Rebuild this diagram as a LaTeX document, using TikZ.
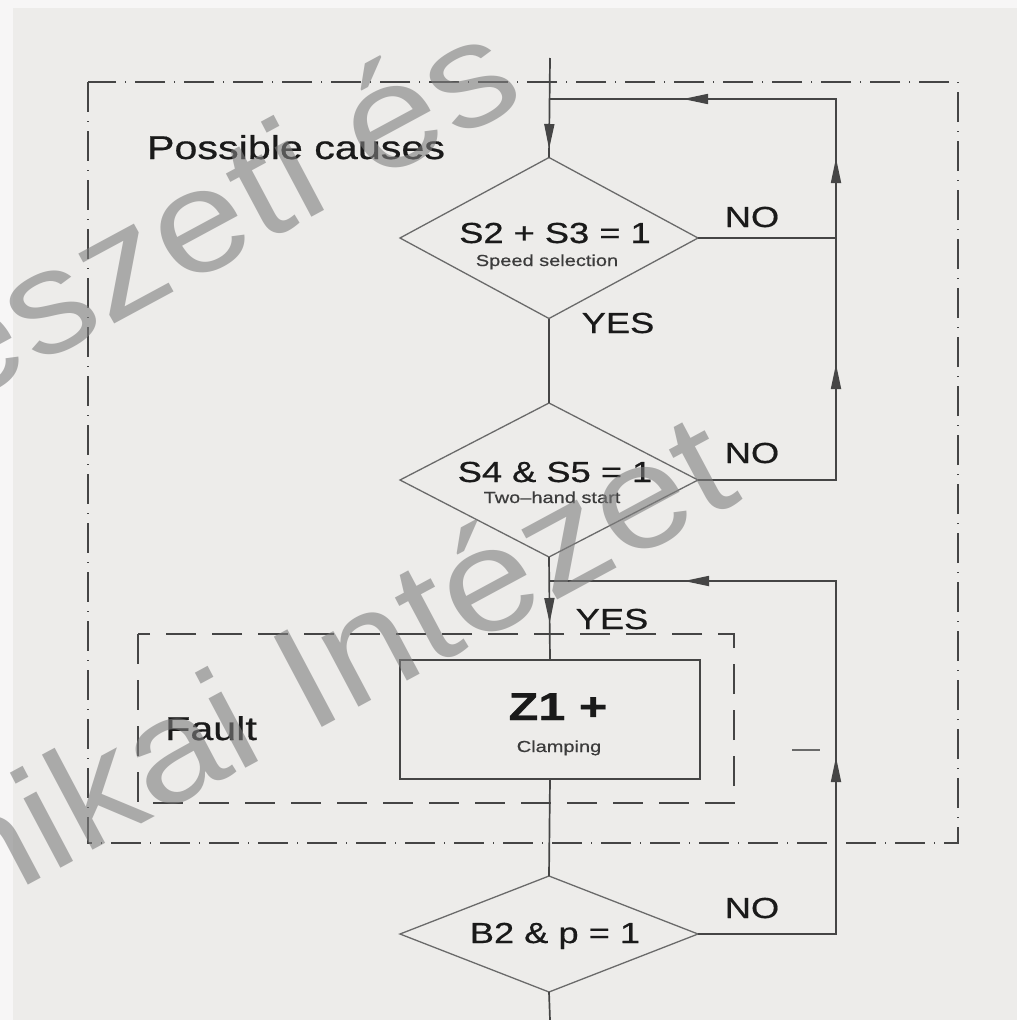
\documentclass[tikz,border=0pt]{standalone}
\usepackage{fontspec}
\setmainfont{Liberation Sans}[FakeStretch=1.25,FakeBold=0.6]
\newfontfamily\wmfont{Liberation Sans}
\usetikzlibrary{shapes.geometric,arrows.meta,decorations.markings}
\definecolor{bg}{HTML}{EDECEA}
\definecolor{ln}{HTML}{454545}
\definecolor{dl}{HTML}{6A6A6A}
\definecolor{tx}{HTML}{1A1A1A}
\definecolor{wm}{HTML}{7E7E7E}
\newcommand\flowtip{\arrow{Triangle[length=25pt,width=10pt]}}
\begin{document}
\begin{tikzpicture}[x=1pt,y=-1pt,
  flow/.style={draw=ln, line width=1.7pt},
  decision/.style={shape=diamond, draw=dl, line width=1.3pt, inner sep=0pt, outer sep=0pt,
    minimum width=298pt},
  procbox/.style={rectangle, draw=ln, line width=1.6pt, inner sep=0pt, outer sep=0pt,
    minimum width=300pt, minimum height=119pt},
  framebox/.style={draw=ln, line width=1.7pt, dash pattern=on 30pt off 9pt on 1pt off 9pt},
  faultbox/.style={draw=ln, line width=1.7pt, dash pattern=on 30pt off 16pt},
  big/.style={text=tx, font=\fontsize{29pt}{33pt}\selectfont, inner sep=0pt, anchor=base},
  head/.style={text=tx, font=\fontsize{33pt}{38pt}\selectfont, inner sep=0pt, anchor=base},
  small/.style={text=tx!85, font=\fontsize{16pt}{18pt}\selectfont, inner sep=0pt, anchor=base},
  zlabel/.style={text=tx, font=\bfseries\fontsize{39pt}{42pt}\selectfont, inner sep=0pt, anchor=base},
  wmark/.style={text=wm, opacity=0.6, font=\wmfont\itshape\fontsize{140pt}{140pt}\selectfont,
    inner sep=0pt, xscale=1.25, transform shape}
]
\useasboundingbox (0,0) rectangle (1017,1020);
\fill[bg] (0,0) rectangle (1017,1020);
\fill[white!55!bg] (0,0) rectangle (1017,8);
\fill[white!55!bg] (0,0) rectangle (13,1020);

% frames
\draw[framebox] (88,82) rectangle (958,843);
\draw[faultbox] (138,634) rectangle (734,803);

% nodes
\node[decision, minimum height=161pt] (d1) at (549,238) {};
\node[decision, minimum height=154pt] (d2) at (549,480) {};
\node[procbox] (z1) at (550,719.5) {};
\node[decision, minimum height=116pt] (d3) at (549,934) {};

\coordinate (start) at (550,58);
\coordinate (finish) at (550,1020);
\coordinate (j1) at (836,238);
\coordinate (jA) at (836,480);
\coordinate (cA) at (836,99);
\coordinate (mA) at (550,99);
\coordinate (jB) at (836,934);
\coordinate (cB) at (836,581);
\coordinate (mB) at (550,581);
\coordinate (s1) at (792,750);
\coordinate (s2) at (820,750);

% main flow
\draw[flow, postaction={decorate}, decoration={markings, mark=at position 91pt with {\flowtip}}]
  (start) -- (d1.north);
\draw[flow] (d1.south) -- (d2.north);
\draw[flow, postaction={decorate}, decoration={markings, mark=at position 66pt with {\flowtip}}]
  (d2.south) -- (z1.north);
\draw[flow] (z1.south) -- (d3.north);
\draw[flow] (d3.south) -- (finish);

% NO loops
\draw[flow] (d1.east) -- (j1);
\draw[flow, postaction={decorate}, decoration={markings,
    mark=at position 254pt with {\flowtip},
    mark=at position 460pt with {\flowtip},
    mark=at position 672pt with {\flowtip}}]
  (d2.east) -- (jA) -- (cA) -- (mA);
\draw[flow, postaction={decorate}, decoration={markings,
    mark=at position 315pt with {\flowtip},
    mark=at position 643pt with {\flowtip}}]
  (d3.east) -- (jB) -- (cB) -- (mB);
\draw[draw=ln!80, line width=1.3pt] (s1) -- (s2);

% texts
\node[head] (tpc) at (296,159) {Possible causes};
\node[head] (tfault) at (211,740) {Fault};
\node[big] (t1) at (555,243) {S2 + S3 = 1};
\node[small] (t1s) at (547,266) {Speed selection};
\node[big] (t2) at (555,482) {S4 \& S5 = 1};
\node[small] (t2s) at (552,503) {Two–hand start};
\node[zlabel] (tz) at (558,720) {Z1 +};
\node[small] (tzs) at (559,752) {Clamping};
\node[big] (t3) at (555,943) {B2 \& p = 1};
\node[big] (no1) at (752,227) {NO};
\node[big] (no2) at (752,463) {NO};
\node[big] (no3) at (752,918) {NO};
\node[big] (yes1) at (618,333) {YES};
\node[big] (yes2) at (612,629) {YES};

% watermark
\node[wmark, anchor=base east, rotate=34] (wm1) at (535,97) {eszeti és};
\node[wmark, anchor=base east, rotate=34] (wm2) at (752,495) {nikai Intézet};
\end{tikzpicture}
\end{document}
